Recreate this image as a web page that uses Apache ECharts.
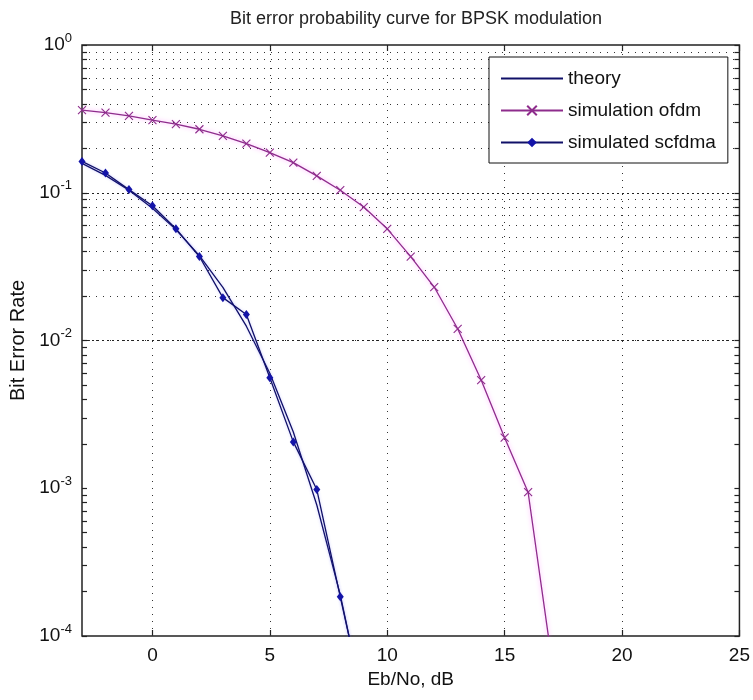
<!DOCTYPE html>
<html>
<head>
<meta charset="utf-8">
<script src="https://cdn.jsdelivr.net/npm/echarts@6/dist/echarts.min.js"></script>
<style>
html,body{margin:0;padding:0;background:#fff;}
#chart{width:753px;height:700px;}
</style>
</head>
<body>
<div id="chart"></div>
<script>
// ---- data ----
const theoryX   = [-3, -2, -1, 0, 1, 2, 3, 4, 5, 6, 7, 8, 9, 10];
const theoryBer = [0.158, 0.131, 0.104, 0.0786, 0.0563, 0.0375, 0.0229, 0.0125, 0.0060, 0.0024, 0.00077, 0.00019, 0.000034, 0.0000039];

const ofdmX   = [-3, -2, -1, 0, 1, 2, 3, 4, 5, 6, 7, 8, 9, 10, 11, 12, 13, 14, 15, 16, 17];
const ofdmBer = [0.362, 0.349, 0.331, 0.31, 0.291, 0.269, 0.243, 0.215, 0.187, 0.160, 0.130, 0.104, 0.08, 0.057, 0.037, 0.023, 0.012, 0.0054, 0.0022, 0.00094, 0.00007];

const scfdmaX   = [-3, -2, -1, 0, 1, 2, 3, 4, 5, 6, 7, 8, 9];
const scfdmaBer = [0.163, 0.136, 0.105, 0.0817, 0.0571, 0.037, 0.0195, 0.015, 0.0056, 0.00206, 0.00098, 0.000184, 0.000035];

const seriesNames = ['theory', 'simulation ofdm', 'simulated scfdma'];

// ---- axis ticks ----
const xTicks = [0, 5, 10, 15, 20, 25];
const xGrid  = [0, 5, 10, 15, 20];
const yMajor = [0.0001, 0.001, 0.01, 0.1, 1];
const yMajorGrid = [0.001, 0.01, 0.1];
const yMinor = [
  0.0002, 0.0003, 0.0004, 0.0005, 0.0006, 0.0007, 0.0008, 0.0009,
  0.002, 0.003, 0.004, 0.005, 0.006, 0.007, 0.008, 0.009,
  0.02, 0.03, 0.04, 0.05, 0.06, 0.07, 0.08, 0.09,
  0.2, 0.3, 0.4, 0.5, 0.6, 0.7, 0.8, 0.9
];

const FONT = "'Liberation Sans', Arial, sans-serif";
const pairs = (xs, ys) => xs.map((x, i) => [x, ys[i]]);

const chart = echarts.init(document.getElementById('chart'), null, {renderer: 'canvas'});

const supFmt = v => {
  const e = Math.round(Math.log10(v));
  return '{b|10}{e|' + e + '}';
};

const tickStyle = {color: '#222', width: 1.2};

const option = {
  backgroundColor: '#fff',
  animation: false,
  title: {
    text: 'Bit error probability curve for BPSK modulation',
    left: 411, textAlign: 'center', top: 5,
    textStyle: {fontFamily: FONT, fontSize: 18, fontWeight: 'normal', color: '#222'}
  },
  grid: {
    left: 82, right: 12, top: 45, bottom: 64,
    show: true, borderColor: '#222', borderWidth: 1.5, backgroundColor: '#fff'
  },
  legend: {
    data: [
      {name: 'theory', itemStyle: {opacity: 0}},
      {name: 'simulation ofdm'},
      {name: 'simulated scfdma'}
    ],
    orient: 'vertical',
    left: 489, top: 57,
    itemWidth: 62, itemHeight: 12, itemGap: 13,
    padding: [12, 12, 11, 11],
    borderColor: '#111', borderWidth: 1, borderRadius: 0,
    backgroundColor: '#fff',
    textStyle: {fontFamily: FONT, fontSize: 19, color: '#111'}
  },
  xAxis: [{
    type: 'value', min: -3, max: 25,
    name: 'Eb/No, dB', nameLocation: 'middle', nameGap: 34,
    nameTextStyle: {fontFamily: FONT, fontSize: 19, color: '#111'},
    axisLine: {show: false, onZero: false},
    axisTick: {show: true, inside: true, length: 6, customValues: xTicks, lineStyle: tickStyle},
    axisLabel: {customValues: xTicks, fontFamily: FONT, fontSize: 19, color: '#111', margin: 10},
    splitLine: {show: false}
  }, {
    type: 'value', min: -3, max: 25, position: 'top',
    axisLine: {show: false, onZero: false},
    axisTick: {show: true, inside: true, length: 6, customValues: xTicks, lineStyle: tickStyle},
    axisLabel: {show: false},
    splitLine: {show: false}
  }],
  yAxis: [{
    type: 'log', logBase: 10, min: 0.0001, max: 1, position: 'left',
    name: 'Bit Error Rate', nameLocation: 'middle', nameGap: 52, nameRotate: 90,
    nameTextStyle: {fontFamily: FONT, fontSize: 20, color: '#111'},
    axisLine: {show: false, onZero: false},
    axisTick: {show: true, inside: true, length: 5, customValues: yMajor.concat(yMinor), lineStyle: tickStyle},
    axisLabel: {
      customValues: yMajor,
      formatter: supFmt, margin: 10,
      rich: {
        b: {fontFamily: FONT, fontSize: 19, color: '#111'},
        e: {fontFamily: FONT, fontSize: 13, color: '#111', padding: [0, 0, 14, 0]}
      }
    },
    splitLine: {show: false}
  }, {
    type: 'log', logBase: 10, min: 0.0001, max: 1, position: 'right',
    axisLine: {show: false, onZero: false},
    axisTick: {show: true, inside: true, length: 5, customValues: yMajor.concat(yMinor), lineStyle: tickStyle},
    axisLabel: {show: false},
    splitLine: {show: false}
  }],
  series: [
    {
      name: '__grid', type: 'line', data: [], z: 1, silent: true,
      markLine: {
        silent: true, symbol: ['none', 'none'], z: 1, animation: false,
        label: {show: false},
        emphasis: {disabled: true},
        data: []
          .concat(yMinor.map(v => ({yAxis: v, lineStyle: {color: '#333', width: 1, type: [1, 6]}})))
          .concat(yMajorGrid.map(v => ({yAxis: v, lineStyle: {color: '#222', width: 1, type: [2, 3]}})))
          .concat(xGrid.map(v => ({xAxis: v, lineStyle: {color: '#333', width: 1, type: [1, 6]}})))
      }
    },
    {
      name: 'theory', type: 'line', z: 3,
      data: pairs(theoryX, theoryBer),
      symbol: 'none',
      lineStyle: {color: '#101068', width: 1.3, shadowColor: 'rgba(90,90,255,0.3)', shadowBlur: 3},
      itemStyle: {color: '#101068'}
    },
    {
      name: 'simulation ofdm', type: 'line', z: 3,
      data: pairs(ofdmX, ofdmBer),
      symbol: 'path://M0,0L10,10M10,0L0,10', symbolSize: 8,
      lineStyle: {color: '#8e2c8c', width: 1.3, shadowColor: 'rgba(255,90,255,0.55)', shadowBlur: 4},
      itemStyle: {color: 'none', borderColor: '#8e2c8c', borderWidth: 1.1}
    },
    {
      name: 'simulated scfdma', type: 'line', z: 4,
      data: pairs(scfdmaX, scfdmaBer),
      symbol: 'diamond', symbolSize: [7, 9],
      lineStyle: {color: '#101068', width: 1.3, shadowColor: 'rgba(90,90,255,0.3)', shadowBlur: 3},
      itemStyle: {color: '#1414a8'}
    }
  ]
};
chart.setOption(option);
</script>
</body>
</html>
